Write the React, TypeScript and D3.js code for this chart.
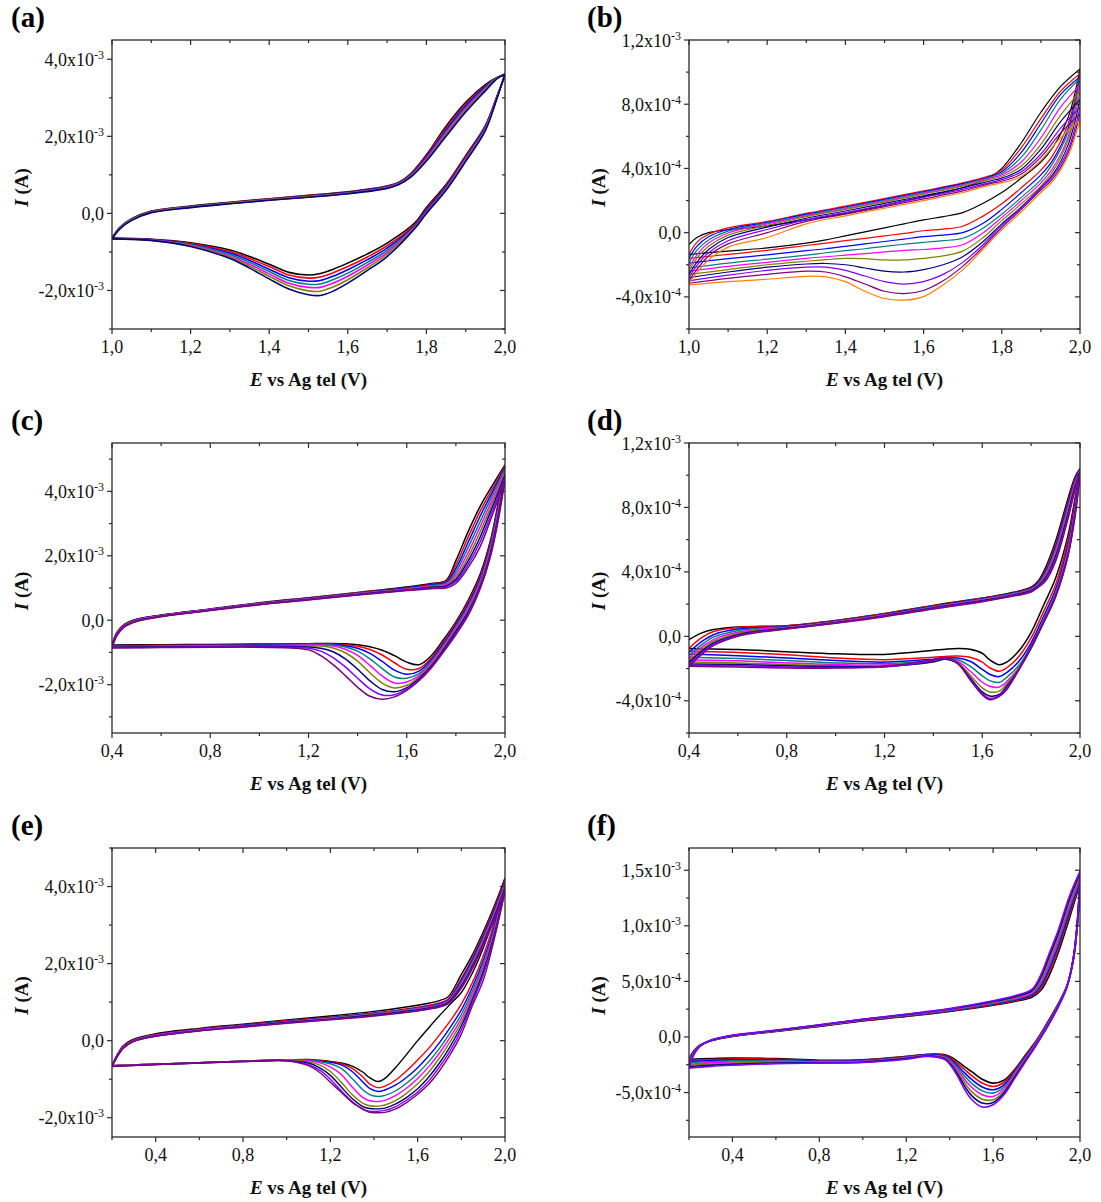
import React from 'react';
import * as d3 from 'd3';

const FONT = "'Liberation Serif', 'Times New Roman', 'DejaVu Serif', Times, serif";
const PALETTE = ['#000000', '#FF0000', '#0000FF', '#008080', '#FF00FF', '#808000', '#000080', '#8000FF', '#800080', '#FF8000', '#800000', '#008000'];

// ---------- Panel (a)  (current in 1e-3 A) ----------
const A_ANODIC_E = [1.0, 1.02, 1.05, 1.1, 1.2, 1.3, 1.4, 1.5, 1.6, 1.7, 1.73, 1.76, 1.8, 1.85, 1.9, 1.95, 1.98, 2.0];
const A_ANODIC_I = [
  [-0.64, -0.36, -0.14, 0.06, 0.19, 0.29, 0.38, 0.47, 0.56, 0.71, 0.81, 1.03, 1.52, 2.26, 2.88, 3.34, 3.53, 3.58],
  [-0.65, -0.37, -0.15, 0.05, 0.18, 0.28, 0.37, 0.46, 0.55, 0.70, 0.80, 1.01, 1.49, 2.21, 2.84, 3.31, 3.53, 3.60],
  [-0.65, -0.38, -0.16, 0.04, 0.17, 0.27, 0.36, 0.45, 0.54, 0.69, 0.79, 0.99, 1.46, 2.16, 2.79, 3.29, 3.52, 3.60],
  [-0.65, -0.38, -0.16, 0.04, 0.17, 0.27, 0.36, 0.44, 0.53, 0.68, 0.78, 0.98, 1.43, 2.12, 2.75, 3.26, 3.52, 3.61],
  [-0.66, -0.39, -0.17, 0.03, 0.16, 0.26, 0.35, 0.43, 0.52, 0.67, 0.77, 0.96, 1.41, 2.08, 2.71, 3.23, 3.51, 3.61],
  [-0.66, -0.39, -0.17, 0.03, 0.16, 0.26, 0.35, 0.43, 0.52, 0.66, 0.76, 0.95, 1.38, 2.04, 2.67, 3.21, 3.51, 3.62],
  [-0.66, -0.40, -0.18, 0.02, 0.15, 0.25, 0.34, 0.42, 0.51, 0.65, 0.75, 0.94, 1.36, 2.00, 2.63, 3.18, 3.50, 3.62],
];
const A_CATHODIC_E = [2.0, 1.98, 1.95, 1.9, 1.85, 1.8, 1.77, 1.7, 1.65, 1.6, 1.56, 1.53, 1.5, 1.45, 1.4, 1.35, 1.3, 1.2, 1.1, 1.0];
const A_CATHODIC_I = [
  [3.58, 3.05, 2.28, 1.50, 0.75, 0.15, -0.25, -0.77, -1.05, -1.29, -1.46, -1.56, -1.60, -1.53, -1.32, -1.12, -0.95, -0.76, -0.67, -0.64],
  [3.60, 3.04, 2.26, 1.47, 0.72, 0.11, -0.29, -0.84, -1.13, -1.38, -1.55, -1.65, -1.68, -1.60, -1.38, -1.17, -0.99, -0.78, -0.68, -0.65],
  [3.60, 3.03, 2.24, 1.44, 0.69, 0.08, -0.32, -0.90, -1.20, -1.46, -1.64, -1.74, -1.76, -1.67, -1.45, -1.22, -1.03, -0.80, -0.68, -0.65],
  [3.61, 3.02, 2.21, 1.42, 0.66, 0.05, -0.34, -0.96, -1.27, -1.55, -1.73, -1.83, -1.84, -1.74, -1.51, -1.27, -1.07, -0.81, -0.69, -0.65],
  [3.61, 3.01, 2.19, 1.40, 0.64, 0.03, -0.36, -1.01, -1.34, -1.63, -1.82, -1.92, -1.92, -1.81, -1.57, -1.32, -1.11, -0.83, -0.69, -0.66],
  [3.62, 3.01, 2.17, 1.37, 0.62, 0.01, -0.38, -1.06, -1.41, -1.72, -1.92, -2.02, -2.01, -1.88, -1.63, -1.37, -1.14, -0.84, -0.70, -0.66],
  [3.62, 3.00, 2.15, 1.35, 0.60, 0.00, -0.40, -1.12, -1.48, -1.81, -2.03, -2.13, -2.11, -1.96, -1.70, -1.42, -1.17, -0.86, -0.70, -0.66],
];
const A_X_MAJOR = [1.0, 1.2, 1.4, 1.6, 1.8, 2.0];
const A_X_MINOR = [1.1, 1.3, 1.5, 1.7, 1.9];
const A_Y_MAJOR = [-2, 0, 2, 4];
const A_Y_LABELS = ['-2,0x10^-3', '0,0', '2,0x10^-3', '4,0x10^-3'];
const A_Y_MINOR = [-3, -1, 1, 3];

// ---------- Panel (b)  (current in 1e-4 A) ----------
const B_ANODIC_E = [1.0, 1.02, 1.05, 1.1, 1.2, 1.3, 1.4, 1.5, 1.6, 1.7, 1.77, 1.8, 1.85, 1.9, 1.95, 2.0];
const B_ANODIC_I = [
  [-0.75, -0.3, 0.0, 0.18, 0.42, 0.8, 1.2, 1.7, 2.24, 2.8, 3.45, 4.0, 5.6, 7.5, 9.1, 10.2],
  [-1.35, -0.6, -0.1, 0.3, 0.7, 1.2, 1.65, 2.12, 2.6, 3.1, 3.55, 3.9, 5.3, 7.1, 8.8, 9.9],
  [-1.6, -0.85, -0.25, 0.2, 0.65, 1.15, 1.6, 2.07, 2.55, 3.05, 3.5, 3.8, 5.0, 6.8, 8.6, 9.7],
  [-1.9, -1.1, -0.45, 0.1, 0.6, 1.1, 1.55, 2.02, 2.5, 3.0, 3.45, 3.7, 4.7, 6.4, 8.3, 9.6],
  [-2.2, -1.4, -0.65, -0.02, 0.55, 1.05, 1.5, 1.97, 2.45, 2.95, 3.4, 3.6, 4.4, 5.9, 7.8, 9.2],
  [-2.4, -1.6, -0.85, -0.15, 0.45, 1.0, 1.45, 1.92, 2.4, 2.9, 3.32, 3.5, 4.15, 5.5, 7.3, 8.8],
  [-2.6, -1.85, -1.05, -0.3, 0.35, 0.9, 1.35, 1.82, 2.3, 2.8, 3.22, 3.4, 3.95, 5.2, 6.9, 8.3],
  [-2.8, -2.05, -1.25, -0.5, 0.2, 0.8, 1.25, 1.72, 2.2, 2.7, 3.12, 3.3, 3.8, 4.9, 6.5, 7.8],
  [-3.0, -2.3, -1.45, -0.7, 0.0, 0.7, 1.15, 1.62, 2.1, 2.6, 3.05, 3.2, 3.65, 4.7, 6.2, 7.4],
  [-3.15, -2.5, -1.7, -0.9, -0.3, 0.55, 1.05, 1.52, 2.0, 2.5, 2.96, 3.1, 3.5, 4.5, 5.9, 7.0],
];
const B_CATHODIC_E = [2.0, 1.97, 1.93, 1.9, 1.85, 1.8, 1.75, 1.7, 1.65, 1.6, 1.55, 1.5, 1.45, 1.4, 1.35, 1.3, 1.2, 1.1, 1.0];
const B_CATHODIC_I = [
  [10.2, 7.2, 5.3, 4.4, 3.4, 2.5, 1.8, 1.25, 1.0, 0.8, 0.55, 0.3, 0.05, -0.2, -0.45, -0.65, -0.95, -1.15, -1.35],
  [9.9, 6.8, 4.8, 3.9, 2.8, 1.8, 1.0, 0.4, 0.22, 0.12, -0.05, -0.2, -0.35, -0.5, -0.65, -0.8, -1.1, -1.35, -1.6],
  [9.7, 6.5, 4.5, 3.6, 2.5, 1.45, 0.55, 0.0, -0.15, -0.25, -0.4, -0.55, -0.7, -0.85, -1.0, -1.12, -1.38, -1.62, -1.9],
  [9.6, 6.3, 4.3, 3.3, 2.2, 1.15, 0.25, -0.35, -0.5, -0.6, -0.72, -0.85, -1.0, -1.12, -1.25, -1.4, -1.65, -1.9, -2.2],
  [9.2, 6.0, 4.0, 3.1, 2.0, 0.95, -0.05, -0.75, -0.95, -1.05, -1.1, -1.2, -1.3, -1.4, -1.5, -1.6, -1.85, -2.1, -2.4],
  [8.8, 5.8, 3.8, 2.9, 1.8, 0.75, -0.35, -1.15, -1.45, -1.6, -1.7, -1.7, -1.62, -1.6, -1.68, -1.78, -2.0, -2.3, -2.6],
  [8.3, 5.5, 3.6, 2.8, 1.6, 0.55, -0.6, -1.5, -2.0, -2.3, -2.45, -2.4, -2.2, -2.0, -1.92, -1.95, -2.15, -2.45, -2.8],
  [7.8, 5.2, 3.5, 2.75, 1.55, 0.45, -0.8, -1.85, -2.6, -3.05, -3.2, -3.05, -2.7, -2.35, -2.15, -2.15, -2.35, -2.65, -3.0],
  [7.4, 5.0, 3.35, 2.65, 1.45, 0.32, -0.95, -2.1, -3.0, -3.6, -3.8, -3.65, -3.2, -2.75, -2.45, -2.4, -2.6, -2.85, -3.15],
  [7.0, 4.8, 3.2, 2.5, 1.3, 0.17, -1.08, -2.32, -3.25, -3.98, -4.2, -4.1, -3.65, -3.05, -2.75, -2.72, -2.9, -3.05, -3.25],
];
const B_X_MAJOR = [1.0, 1.2, 1.4, 1.6, 1.8, 2.0];
const B_X_MINOR = [1.1, 1.3, 1.5, 1.7, 1.9];
const B_Y_MAJOR = [-4, 0, 4, 8, 12];
const B_Y_LABELS = ['-4,0x10^-4', '0,0', '4,0x10^-4', '8,0x10^-4', '1,2x10^-3'];
const B_Y_MINOR = [-6, -2, 2, 6, 10];

// ---------- Panel (c)  (current in 1e-3 A) ----------
const C_ANODIC_E = [0.4, 0.42, 0.45, 0.5, 0.6, 0.8, 1.0, 1.2, 1.4, 1.6, 1.7, 1.76, 1.8, 1.85, 1.9, 1.95, 2.0];
const C_ANODIC_I = [
  [-0.76, -0.38, -0.13, 0.03, 0.16, 0.35, 0.54, 0.70, 0.86, 1.03, 1.14, 1.24, 1.85, 2.75, 3.55, 4.20, 4.82],
  [-0.77, -0.39, -0.14, 0.02, 0.15, 0.34, 0.53, 0.69, 0.85, 1.01, 1.12, 1.21, 1.72, 2.58, 3.40, 4.10, 4.78],
  [-0.78, -0.40, -0.15, 0.02, 0.15, 0.34, 0.52, 0.68, 0.84, 1.00, 1.10, 1.18, 1.60, 2.42, 3.25, 4.00, 4.74],
  [-0.79, -0.41, -0.16, 0.01, 0.14, 0.33, 0.52, 0.67, 0.83, 0.98, 1.08, 1.15, 1.50, 2.26, 3.08, 3.90, 4.70],
  [-0.80, -0.42, -0.17, 0.00, 0.14, 0.33, 0.51, 0.66, 0.82, 0.97, 1.06, 1.12, 1.41, 2.10, 2.92, 3.78, 4.64],
  [-0.81, -0.43, -0.18, -0.01, 0.13, 0.32, 0.50, 0.65, 0.81, 0.95, 1.04, 1.09, 1.33, 1.96, 2.76, 3.66, 4.58],
  [-0.82, -0.44, -0.19, -0.02, 0.12, 0.31, 0.49, 0.64, 0.80, 0.94, 1.02, 1.06, 1.26, 1.84, 2.60, 3.54, 4.50],
  [-0.84, -0.46, -0.20, -0.03, 0.12, 0.31, 0.49, 0.64, 0.79, 0.93, 1.00, 1.03, 1.20, 1.73, 2.45, 3.42, 4.42],
  [-0.86, -0.48, -0.21, -0.04, 0.11, 0.30, 0.48, 0.63, 0.78, 0.92, 0.98, 1.00, 1.14, 1.63, 2.30, 3.30, 4.34],
];
const C_CATHODIC_E = [2.0, 1.97, 1.94, 1.9, 1.85, 1.8, 1.75, 1.7, 1.65, 1.6, 1.55, 1.5, 1.45, 1.4, 1.35, 1.3, 1.25, 1.2, 1.0, 0.8, 0.6, 0.4];
const C_CATHODIC_I = [
  [4.82, 3.55, 2.45, 1.45, 0.62, -0.05, -0.60, -1.10, -1.38, -1.30, -1.10, -0.93, -0.82, -0.76, -0.73, -0.72, -0.72, -0.73, -0.74, -0.75, -0.76, -0.77],
  [4.78, 3.48, 2.38, 1.38, 0.56, -0.10, -0.66, -1.17, -1.50, -1.52, -1.32, -1.08, -0.91, -0.81, -0.76, -0.74, -0.73, -0.74, -0.76, -0.77, -0.78, -0.79],
  [4.74, 3.41, 2.31, 1.31, 0.49, -0.15, -0.72, -1.23, -1.58, -1.68, -1.55, -1.28, -1.03, -0.87, -0.79, -0.75, -0.74, -0.75, -0.77, -0.78, -0.79, -0.80],
  [4.70, 3.35, 2.25, 1.25, 0.43, -0.20, -0.77, -1.28, -1.66, -1.80, -1.76, -1.50, -1.20, -0.96, -0.83, -0.77, -0.75, -0.76, -0.78, -0.79, -0.80, -0.81],
  [4.64, 3.28, 2.18, 1.19, 0.37, -0.25, -0.82, -1.33, -1.72, -1.92, -1.95, -1.73, -1.40, -1.09, -0.90, -0.80, -0.77, -0.77, -0.79, -0.80, -0.81, -0.82],
  [4.58, 3.21, 2.11, 1.13, 0.31, -0.30, -0.87, -1.38, -1.77, -2.02, -2.10, -1.95, -1.63, -1.27, -1.01, -0.86, -0.80, -0.79, -0.80, -0.81, -0.82, -0.83],
  [4.50, 3.14, 2.05, 1.08, 0.25, -0.35, -0.91, -1.42, -1.81, -2.09, -2.22, -2.15, -1.88, -1.52, -1.20, -0.98, -0.87, -0.83, -0.81, -0.82, -0.83, -0.84],
  [4.42, 3.07, 2.00, 1.04, 0.20, -0.40, -0.95, -1.45, -1.85, -2.14, -2.31, -2.32, -2.13, -1.80, -1.45, -1.16, -0.96, -0.87, -0.83, -0.83, -0.84, -0.85],
  [4.34, 3.00, 1.95, 1.00, 0.15, -0.45, -0.98, -1.48, -1.88, -2.18, -2.38, -2.45, -2.36, -2.08, -1.72, -1.38, -1.10, -0.92, -0.84, -0.84, -0.85, -0.86],
];
const C_X_MAJOR = [0.4, 0.8, 1.2, 1.6, 2.0];
const C_X_MINOR = [0.6, 1.0, 1.4, 1.8];
const C_Y_MAJOR = [-2, 0, 2, 4];
const C_Y_LABELS = ['-2,0x10^-3', '0,0', '2,0x10^-3', '4,0x10^-3'];
const C_Y_MINOR = [-3, -1, 1, 3, 5];

// ---------- Panel (d)  (current in 1e-4 A) ----------
const D_ANODIC_E = [0.4, 0.45, 0.5, 0.6, 0.7, 0.8, 1.0, 1.2, 1.4, 1.6, 1.7, 1.8, 1.83, 1.86, 1.9, 1.95, 1.98, 2.0];
const D_ANODIC_I = [
  [-0.2, 0.2, 0.42, 0.58, 0.62, 0.66, 0.98, 1.42, 1.92, 2.38, 2.65, 3.05, 3.45, 4.3, 5.9, 8.5, 9.9, 10.4],
  [-0.75, -0.1, 0.3, 0.55, 0.6, 0.64, 0.96, 1.40, 1.90, 2.36, 2.62, 3.0, 3.38, 4.15, 5.7, 8.3, 9.8, 10.4],
  [-1.0, -0.35, 0.1, 0.45, 0.55, 0.6, 0.93, 1.37, 1.87, 2.33, 2.6, 2.97, 3.32, 4.05, 5.55, 8.15, 9.7, 10.4],
  [-1.2, -0.55, -0.05, 0.35, 0.5, 0.57, 0.91, 1.34, 1.84, 2.30, 2.57, 2.94, 3.27, 3.95, 5.4, 8.0, 9.6, 10.3],
  [-1.35, -0.7, -0.2, 0.25, 0.45, 0.55, 0.89, 1.32, 1.81, 2.27, 2.54, 2.9, 3.22, 3.85, 5.25, 7.85, 9.5, 10.3],
  [-1.5, -0.85, -0.32, 0.18, 0.4, 0.52, 0.87, 1.29, 1.78, 2.24, 2.51, 2.86, 3.18, 3.75, 5.1, 7.7, 9.4, 10.2],
  [-1.62, -0.95, -0.42, 0.1, 0.35, 0.5, 0.85, 1.27, 1.76, 2.21, 2.48, 2.83, 3.14, 3.65, 4.95, 7.55, 9.3, 10.2],
  [-1.74, -1.05, -0.5, 0.05, 0.31, 0.47, 0.83, 1.24, 1.73, 2.18, 2.45, 2.79, 3.1, 3.55, 4.8, 7.4, 9.2, 10.1],
  [-1.86, -1.15, -0.58, 0.0, 0.28, 0.45, 0.81, 1.22, 1.7, 2.15, 2.42, 2.75, 3.05, 3.45, 4.65, 7.25, 9.1, 10.0],
];
const D_CATHODIC_E = [2.0, 1.98, 1.95, 1.9, 1.85, 1.8, 1.75, 1.7, 1.67, 1.63, 1.6, 1.55, 1.5, 1.45, 1.4, 1.2, 1.0, 0.8, 0.6, 0.4];
const D_CATHODIC_I = [
  [10.4, 8.6, 6.2, 3.6, 1.9, 0.25, -0.9, -1.6, -1.76, -1.45, -1.05, -0.8, -0.76, -0.8, -0.87, -1.12, -1.08, -0.95, -0.82, -0.75],
  [10.4, 8.4, 5.9, 3.2, 1.5, -0.1, -1.25, -1.95, -2.17, -1.95, -1.6, -1.3, -1.22, -1.25, -1.3, -1.45, -1.35, -1.15, -1.0, -0.93],
  [10.4, 8.2, 5.6, 2.9, 1.2, -0.4, -1.55, -2.25, -2.5, -2.35, -2.05, -1.55, -1.35, -1.35, -1.42, -1.6, -1.5, -1.35, -1.2, -1.1],
  [10.3, 8.0, 5.4, 2.7, 1.0, -0.6, -1.8, -2.55, -2.85, -2.75, -2.45, -1.85, -1.45, -1.38, -1.5, -1.7, -1.65, -1.5, -1.38, -1.3],
  [10.3, 7.9, 5.25, 2.6, 0.9, -0.7, -1.95, -2.8, -3.15, -3.1, -2.85, -2.15, -1.55, -1.4, -1.55, -1.78, -1.75, -1.65, -1.52, -1.45],
  [10.2, 7.8, 5.1, 2.5, 0.85, -0.75, -2.0, -2.95, -3.4, -3.45, -3.2, -2.4, -1.65, -1.42, -1.6, -1.83, -1.82, -1.75, -1.65, -1.6],
  [10.2, 7.7, 5.0, 2.48, 0.83, -0.72, -2.05, -3.1, -3.6, -3.7, -3.45, -2.55, -1.7, -1.4, -1.58, -1.87, -1.88, -1.83, -1.75, -1.72],
  [10.1, 7.6, 4.98, 2.48, 0.83, -0.68, -2.07, -3.2, -3.68, -3.85, -3.55, -2.65, -1.7, -1.35, -1.52, -1.9, -1.93, -1.9, -1.82, -1.8],
  [10.0, 7.45, 4.97, 2.48, 0.83, -0.62, -2.07, -3.31, -3.73, -3.93, -3.62, -2.69, -1.66, -1.3, -1.45, -1.86, -1.97, -1.97, -1.9, -1.86],
];
const D_X_MAJOR = [0.4, 0.8, 1.2, 1.6, 2.0];
const D_X_MINOR = [0.6, 1.0, 1.4, 1.8];
const D_Y_MAJOR = [-4, 0, 4, 8, 12];
const D_Y_LABELS = ['-4,0x10^-4', '0,0', '4,0x10^-4', '8,0x10^-4', '1,2x10^-3'];
const D_Y_MINOR = [-6, -2, 2, 6, 10];

// ---------- Panel (e)  (current in 1e-3 A) ----------
const E_ANODIC_E = [0.2, 0.21, 0.25, 0.3, 0.4, 0.6, 0.8, 1.0, 1.2, 1.4, 1.6, 1.7, 1.74, 1.8, 1.85, 1.9, 1.95, 2.0];
const E_ANODIC_I = [
  [-0.65, -0.52, -0.14, 0.04, 0.18, 0.32, 0.43, 0.54, 0.64, 0.76, 0.92, 1.04, 1.14, 1.72, 2.22, 2.82, 3.48, 4.22],
  [-0.65, -0.53, -0.16, 0.02, 0.16, 0.30, 0.41, 0.52, 0.61, 0.72, 0.87, 0.98, 1.08, 1.62, 2.14, 2.75, 3.42, 4.18],
  [-0.65, -0.53, -0.17, 0.01, 0.15, 0.29, 0.40, 0.50, 0.60, 0.71, 0.85, 0.96, 1.05, 1.57, 2.09, 2.70, 3.37, 4.14],
  [-0.66, -0.54, -0.18, 0.01, 0.14, 0.28, 0.39, 0.49, 0.59, 0.70, 0.84, 0.94, 1.03, 1.52, 2.04, 2.65, 3.32, 4.10],
  [-0.66, -0.54, -0.18, 0.00, 0.14, 0.28, 0.38, 0.48, 0.58, 0.69, 0.83, 0.93, 1.02, 1.48, 2.00, 2.61, 3.28, 4.06],
  [-0.66, -0.55, -0.19, 0.00, 0.13, 0.27, 0.37, 0.47, 0.57, 0.68, 0.81, 0.91, 1.00, 1.45, 1.96, 2.57, 3.24, 4.02],
  [-0.66, -0.55, -0.20, -0.01, 0.12, 0.26, 0.37, 0.47, 0.56, 0.67, 0.80, 0.90, 0.99, 1.42, 1.93, 2.53, 3.20, 3.97],
  [-0.67, -0.55, -0.20, -0.01, 0.12, 0.26, 0.36, 0.46, 0.55, 0.65, 0.78, 0.88, 0.97, 1.39, 1.89, 2.50, 3.16, 3.92],
  [-0.67, -0.56, -0.21, -0.02, 0.11, 0.25, 0.35, 0.45, 0.54, 0.64, 0.77, 0.87, 0.96, 1.36, 1.86, 2.46, 3.12, 3.86],
];
const E_CATHODIC_E = [2.0, 1.95, 1.9, 1.85, 1.8, 1.75, 1.7, 1.65, 1.6, 1.55, 1.5, 1.45, 1.42, 1.38, 1.35, 1.3, 1.25, 1.2, 1.15, 1.1, 1.0, 0.8, 0.6, 0.4, 0.2];
const E_CATHODIC_I = [
  [4.22, 3.20, 2.40, 1.75, 1.25, 0.95, 0.65, 0.33, 0.00, -0.35, -0.69, -0.98, -1.06, -0.96, -0.82, -0.66, -0.58, -0.54, -0.51, -0.49, -0.50, -0.53, -0.57, -0.61, -0.65],
  [4.18, 3.05, 2.20, 1.50, 0.95, 0.52, 0.15, -0.20, -0.50, -0.78, -1.02, -1.18, -1.22, -1.12, -0.95, -0.72, -0.60, -0.55, -0.52, -0.50, -0.50, -0.53, -0.57, -0.61, -0.65],
  [4.14, 2.95, 2.08, 1.38, 0.80, 0.35, -0.05, -0.40, -0.70, -0.95, -1.15, -1.28, -1.32, -1.24, -1.08, -0.80, -0.63, -0.56, -0.53, -0.50, -0.50, -0.53, -0.57, -0.61, -0.65],
  [4.10, 2.88, 2.00, 1.28, 0.68, 0.22, -0.20, -0.55, -0.85, -1.10, -1.30, -1.42, -1.45, -1.40, -1.28, -0.98, -0.72, -0.60, -0.54, -0.51, -0.50, -0.53, -0.57, -0.61, -0.65],
  [4.06, 2.82, 1.92, 1.20, 0.58, 0.10, -0.32, -0.68, -0.98, -1.23, -1.42, -1.55, -1.58, -1.56, -1.48, -1.20, -0.88, -0.68, -0.57, -0.52, -0.51, -0.53, -0.57, -0.61, -0.65],
  [4.02, 2.77, 1.85, 1.12, 0.48, -0.02, -0.45, -0.82, -1.12, -1.36, -1.55, -1.67, -1.70, -1.69, -1.63, -1.40, -1.08, -0.80, -0.63, -0.55, -0.51, -0.53, -0.57, -0.61, -0.65],
  [3.97, 2.72, 1.78, 1.05, 0.38, -0.14, -0.58, -0.95, -1.25, -1.47, -1.64, -1.75, -1.77, -1.76, -1.71, -1.50, -1.20, -0.90, -0.70, -0.58, -0.52, -0.54, -0.58, -0.62, -0.66],
  [3.92, 2.67, 1.70, 0.98, 0.28, -0.25, -0.68, -1.05, -1.33, -1.54, -1.71, -1.81, -1.83, -1.83, -1.79, -1.58, -1.30, -1.00, -0.76, -0.62, -0.52, -0.54, -0.58, -0.62, -0.66],
  [3.86, 2.62, 1.56, 0.90, 0.17, -0.35, -0.78, -1.13, -1.39, -1.60, -1.77, -1.86, -1.87, -1.86, -1.77, -1.60, -1.34, -1.08, -0.82, -0.65, -0.52, -0.54, -0.58, -0.62, -0.67],
];
const E_X_MAJOR = [0.4, 0.8, 1.2, 1.6, 2.0];
const E_X_MINOR = [0.2, 0.6, 1.0, 1.4, 1.8];
const E_Y_MAJOR = [-2, 0, 2, 4];
const E_Y_LABELS = ['-2,0x10^-3', '0,0', '2,0x10^-3', '4,0x10^-3'];
const E_Y_MINOR = [-1, 1, 3, 5];

// ---------- Panel (f)  (current in 1e-4 A) ----------
const F_ANODIC_E = [0.2, 0.22, 0.25, 0.3, 0.4, 0.6, 0.8, 1.0, 1.2, 1.4, 1.6, 1.7, 1.78, 1.82, 1.86, 1.9, 1.95, 2.0];
const F_ANODIC_I = [
  [-2.0, -1.3, -0.75, -0.35, 0.05, 0.5, 0.95, 1.45, 1.85, 2.3, 2.85, 3.2, 3.6, 4.2, 5.6, 7.6, 10.6, 13.8],
  [-2.1, -1.35, -0.77, -0.34, 0.06, 0.51, 0.97, 1.47, 1.88, 2.34, 2.91, 3.27, 3.7, 4.4, 5.9, 7.9, 10.9, 13.95],
  [-2.2, -1.4, -0.78, -0.34, 0.08, 0.53, 0.99, 1.49, 1.91, 2.37, 2.96, 3.33, 3.8, 4.6, 6.2, 8.2, 11.2, 14.1],
  [-2.3, -1.45, -0.8, -0.33, 0.09, 0.54, 1.01, 1.52, 1.94, 2.41, 3.02, 3.4, 3.9, 4.8, 6.5, 8.5, 11.5, 14.25],
  [-2.45, -1.5, -0.81, -0.32, 0.11, 0.56, 1.04, 1.54, 1.97, 2.45, 3.08, 3.48, 4.0, 5.0, 6.8, 8.8, 11.8, 14.4],
  [-2.55, -1.57, -0.83, -0.31, 0.12, 0.57, 1.06, 1.56, 2.0, 2.49, 3.14, 3.56, 4.1, 5.2, 7.1, 9.1, 12.1, 14.55],
  [-2.68, -1.63, -0.84, -0.3, 0.14, 0.59, 1.08, 1.58, 2.03, 2.52, 3.2, 3.63, 4.2, 5.4, 7.35, 9.35, 12.35, 14.75],
  [-2.8, -1.7, -0.85, -0.3, 0.15, 0.6, 1.1, 1.6, 2.05, 2.55, 3.25, 3.7, 4.3, 5.6, 7.6, 9.6, 12.6, 14.9],
];
const F_CATHODIC_E = [2.0, 1.99, 1.97, 1.94, 1.9, 1.85, 1.8, 1.75, 1.7, 1.65, 1.6, 1.55, 1.5, 1.47, 1.44, 1.41, 1.38, 1.3, 1.2, 1.0, 0.8, 0.6, 0.4, 0.3, 0.2];
const F_CATHODIC_I = [
  [13.8, 10.5, 7.0, 4.6, 3.0, 1.3, -0.3, -1.6, -2.9, -3.9, -4.15, -3.8, -3.1, -2.7, -2.25, -1.85, -1.6, -1.55, -1.75, -2.05, -2.1, -1.95, -1.9, -1.95, -2.0],
  [13.95, 10.55, 7.03, 4.59, 2.96, 1.25, -0.35, -1.68, -3.0, -4.1, -4.45, -4.15, -3.45, -2.95, -2.45, -1.98, -1.67, -1.58, -1.78, -2.09, -2.14, -2.0, -1.98, -2.04, -2.1],
  [14.1, 10.6, 7.06, 4.58, 2.92, 1.2, -0.4, -1.76, -3.1, -4.3, -4.75, -4.5, -3.8, -3.25, -2.65, -2.1, -1.74, -1.61, -1.81, -2.13, -2.18, -2.06, -2.06, -2.13, -2.2],
  [14.25, 10.7, 7.09, 4.56, 2.88, 1.14, -0.46, -1.85, -3.2, -4.5, -5.05, -4.85, -4.15, -3.55, -2.85, -2.22, -1.8, -1.64, -1.84, -2.16, -2.22, -2.12, -2.15, -2.23, -2.3],
  [14.4, 10.75, 7.11, 4.55, 2.84, 1.08, -0.52, -1.94, -3.32, -4.7, -5.35, -5.2, -4.5, -3.85, -3.05, -2.35, -1.86, -1.67, -1.87, -2.2, -2.26, -2.2, -2.25, -2.33, -2.45],
  [14.55, 10.8, 7.14, 4.53, 2.79, 1.02, -0.58, -2.03, -3.45, -4.9, -5.65, -5.6, -4.9, -4.15, -3.25, -2.48, -1.92, -1.7, -1.91, -2.24, -2.29, -2.27, -2.36, -2.45, -2.55],
  [14.75, 10.9, 7.17, 4.51, 2.75, 0.96, -0.64, -2.11, -3.57, -5.05, -5.9, -5.95, -5.25, -4.45, -3.45, -2.6, -1.98, -1.72, -1.95, -2.27, -2.32, -2.34, -2.46, -2.55, -2.68],
  [14.9, 11.0, 7.2, 4.5, 2.7, 0.9, -0.7, -2.2, -3.7, -5.2, -6.1, -6.3, -5.6, -4.75, -3.65, -2.7, -2.05, -1.75, -2.0, -2.3, -2.35, -2.4, -2.55, -2.65, -2.8],
];
const F_X_MAJOR = [0.4, 0.8, 1.2, 1.6, 2.0];
const F_X_MINOR = [0.2, 0.6, 1.0, 1.4, 1.8];
const F_Y_MAJOR = [-5, 0, 5, 10, 15];
const F_Y_LABELS = ['-5,0x10^-4', '0,0', '5,0x10^-4', '1,0x10^-3', '1,5x10^-3'];
const F_Y_MINOR = [-7.5, -2.5, 2.5, 7.5, 12.5];

const X_TITLE_REST = ' vs Ag tel (V)';

const LEFT_COL = { left: 112, right: 505, labelX: 11 };
const RIGHT_COL = { left: 689, right: 1080, labelX: 587 };
const ROWS = [
  { top: 40, bottom: 329 },
  { top: 443, bottom: 733 },
  { top: 848, bottom: 1137 },
];

const PANELS = [
  { key: 'a', label: '(a)', col: LEFT_COL, row: ROWS[0], xDomain: [1.0, 2.0], yDomain: [-3, 4.5], lw: 1.6,
    aE: A_ANODIC_E, aI: A_ANODIC_I, cE: A_CATHODIC_E, cI: A_CATHODIC_I,
    xMajor: A_X_MAJOR, xMinor: A_X_MINOR, yMajor: A_Y_MAJOR, yLabels: A_Y_LABELS, yMinor: A_Y_MINOR },
  { key: 'b', label: '(b)', col: RIGHT_COL, row: ROWS[0], xDomain: [1.0, 2.0], yDomain: [-6, 12], lw: 1.2,
    aE: B_ANODIC_E, aI: B_ANODIC_I, cE: B_CATHODIC_E, cI: B_CATHODIC_I,
    xMajor: B_X_MAJOR, xMinor: B_X_MINOR, yMajor: B_Y_MAJOR, yLabels: B_Y_LABELS, yMinor: B_Y_MINOR },
  { key: 'c', label: '(c)', col: LEFT_COL, row: ROWS[1], xDomain: [0.4, 2.0], yDomain: [-3.5, 5.5], lw: 1.5,
    aE: C_ANODIC_E, aI: C_ANODIC_I, cE: C_CATHODIC_E, cI: C_CATHODIC_I,
    xMajor: C_X_MAJOR, xMinor: C_X_MINOR, yMajor: C_Y_MAJOR, yLabels: C_Y_LABELS, yMinor: C_Y_MINOR },
  { key: 'd', label: '(d)', col: RIGHT_COL, row: ROWS[1], xDomain: [0.4, 2.0], yDomain: [-6, 12], lw: 1.5,
    aE: D_ANODIC_E, aI: D_ANODIC_I, cE: D_CATHODIC_E, cI: D_CATHODIC_I,
    xMajor: D_X_MAJOR, xMinor: D_X_MINOR, yMajor: D_Y_MAJOR, yLabels: D_Y_LABELS, yMinor: D_Y_MINOR },
  { key: 'e', label: '(e)', col: LEFT_COL, row: ROWS[2], xDomain: [0.2, 2.0], yDomain: [-2.5, 5], lw: 1.4,
    aE: E_ANODIC_E, aI: E_ANODIC_I, cE: E_CATHODIC_E, cI: E_CATHODIC_I,
    xMajor: E_X_MAJOR, xMinor: E_X_MINOR, yMajor: E_Y_MAJOR, yLabels: E_Y_LABELS, yMinor: E_Y_MINOR },
  { key: 'f', label: '(f)', col: RIGHT_COL, row: ROWS[2], xDomain: [0.2, 2.0], yDomain: [-9, 17], lw: 1.6,
    aE: F_ANODIC_E, aI: F_ANODIC_I, cE: F_CATHODIC_E, cI: F_CATHODIC_I,
    xMajor: F_X_MAJOR, xMinor: F_X_MINOR, yMajor: F_Y_MAJOR, yLabels: F_Y_LABELS, yMinor: F_Y_MINOR },
];

const AXIS_COLOR = '#2a2a2a';
const MAJOR_LEN = 5;
const MINOR_LEN = 3;

function Panel({ p }: { p: any }) {
  const L = p.col.left, R = p.col.right, T = p.row.top, B = p.row.bottom;
  const x = d3.scaleLinear().domain(p.xDomain).range([L, R]);
  const y = d3.scaleLinear().domain(p.yDomain).range([B, T]);
  const line = d3.line<[number, number]>().x(d => x(d[0])).y(d => y(d[1])).curve(d3.curveCatmullRom.alpha(0.5));
  const clipId = `clip-${p.key}`;
  const fmtX = (v: number) => v.toFixed(1).replace('.', ',');

  const curves: any[] = [];
  p.aI.forEach((cyc: number[], i: number) => {
    const color = PALETTE[i % PALETTE.length];
    const an = p.aE.map((e: number, j: number) => [e, cyc[j]] as [number, number]);
    const ca = p.cE.map((e: number, j: number) => [e, p.cI[i][j]] as [number, number]);
    curves.push(<path key={`a${i}`} d={line(an) || ''} fill="none" stroke={color} strokeWidth={p.lw} strokeLinejoin="round" />);
    curves.push(<path key={`c${i}`} d={line(ca) || ''} fill="none" stroke={color} strokeWidth={p.lw} strokeLinejoin="round" />);
  });

  const ticks: any[] = [];
  const addX = (v: number, len: number, k: string) => {
    const px = x(v);
    ticks.push(<line key={`xb${k}`} x1={px} x2={px} y1={B} y2={B + len} stroke={AXIS_COLOR} strokeWidth={1.2} />);
    ticks.push(<line key={`xt${k}`} x1={px} x2={px} y1={T} y2={T + len} stroke={AXIS_COLOR} strokeWidth={1.2} />);
  };
  const addY = (v: number, len: number, k: string) => {
    const py = y(v);
    ticks.push(<line key={`yl${k}`} x1={L - len} x2={L} y1={py} y2={py} stroke={AXIS_COLOR} strokeWidth={1.2} />);
    ticks.push(<line key={`yr${k}`} x1={R - len} x2={R} y1={py} y2={py} stroke={AXIS_COLOR} strokeWidth={1.2} />);
  };
  p.xMajor.forEach((v: number, i: number) => addX(v, MAJOR_LEN, `M${i}`));
  p.xMinor.forEach((v: number, i: number) => addX(v, MINOR_LEN, `m${i}`));
  p.yMajor.forEach((v: number, i: number) => addY(v, MAJOR_LEN, `M${i}`));
  p.yMinor.forEach((v: number, i: number) => addY(v, MINOR_LEN, `m${i}`));

  return (
    <g>
      <defs>
        <clipPath id={clipId}>
          <rect x={L} y={T} width={R - L} height={B - T} />
        </clipPath>
      </defs>
      <g clipPath={`url(#${clipId})`}>{curves}</g>
      <rect x={L} y={T} width={R - L} height={B - T} fill="none" stroke={AXIS_COLOR} strokeWidth={1.3} />
      {ticks}
      {p.xMajor.map((v: number, i: number) => (
        <text key={`xl${i}`} x={x(v)} y={B + 24} textAnchor="middle" fontSize={18} fill="#111">{fmtX(v)}</text>
      ))}
      {p.yMajor.map((v: number, i: number) => {
        const parts = p.yLabels[i].split('^');
        return (
          <text key={`yl${i}`} x={L - 8} y={y(v) + 6.5} textAnchor="end" fontSize={18} fill="#111">
            {parts[0]}
            {parts[1] ? <tspan dy={-7} fontSize={12}>{parts[1]}</tspan> : null}
          </text>
        );
      })}
      <text x={(L + R) / 2} y={B + 57} textAnchor="middle" fontSize={19} fontWeight="bold" fill="#111">
        <tspan fontStyle="italic">E</tspan>{X_TITLE_REST}
      </text>
      <text transform={`translate(${L - 84},${(T + B) / 2 + 3}) rotate(-90)`} textAnchor="middle" fontSize={19} fontWeight="bold" fill="#111">
        <tspan fontStyle="italic">I</tspan>{' (A)'}
      </text>
      <text x={p.col.labelX} y={T - 13} fontSize={29} fontWeight="bold" fill="#000">{p.label}</text>
    </g>
  );
}

export default function App() {
  return (
    <svg width={1101} height={1202} viewBox="0 0 1101 1202"
      style={{ position: 'absolute', left: 0, top: 0, display: 'block', background: '#fff', fontFamily: FONT }}
      fontFamily={FONT}>
      <rect x={0} y={0} width={1101} height={1202} fill="#fff" />
      {PANELS.map(p => <Panel key={p.key} p={p} />)}
    </svg>
  );
}
